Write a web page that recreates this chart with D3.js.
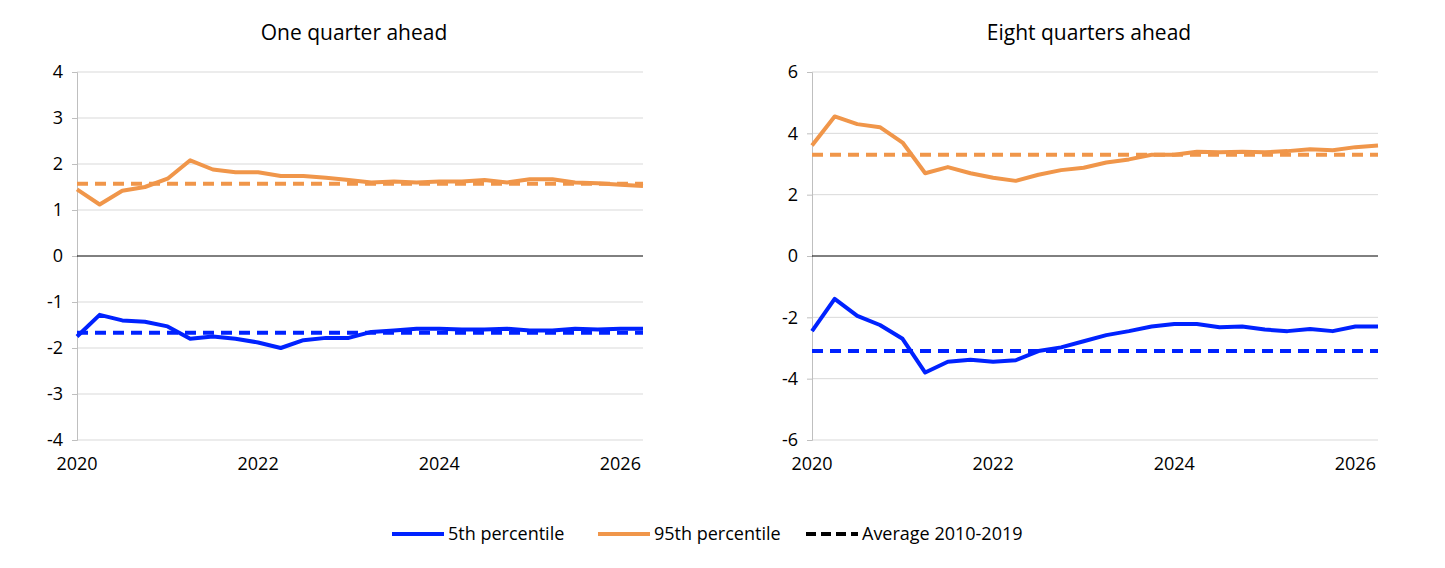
<!DOCTYPE html>
<html><head><meta charset="utf-8">
<script src="https://cdn.jsdelivr.net/npm/d3@7"></script>
<style>body{margin:0;background:#fff}text{font-family:"Open Sans",sans-serif}</style>
</head><body><svg id="c" width="1445" height="568"></svg>
<script>
const quarters=d3.range(26).map(i=>2020+i*0.25);
const oneP95=[1.45,1.12,1.42,1.5,1.68,2.08,1.88,1.82,1.82,1.74,1.74,1.7,1.65,1.6,1.62,1.6,1.62,1.62,1.65,1.6,1.67,1.67,1.6,1.58,1.55,1.52];
const oneP5=[-1.75,-1.28,-1.4,-1.43,-1.53,-1.8,-1.75,-1.8,-1.88,-2.0,-1.83,-1.78,-1.78,-1.65,-1.62,-1.58,-1.58,-1.6,-1.6,-1.58,-1.62,-1.62,-1.58,-1.6,-1.58,-1.58];
const oneAvg={p5:-1.67,p95:1.57};
const eightP95=[3.6,4.55,4.3,4.2,3.7,2.7,2.9,2.7,2.55,2.45,2.65,2.8,2.88,3.05,3.15,3.3,3.3,3.4,3.38,3.4,3.38,3.42,3.48,3.45,3.55,3.6];
const eightP5=[-2.45,-1.4,-1.95,-2.25,-2.7,-3.8,-3.45,-3.38,-3.45,-3.4,-3.1,-2.98,-2.78,-2.58,-2.45,-2.3,-2.22,-2.22,-2.32,-2.3,-2.4,-2.45,-2.38,-2.45,-2.3,-2.3];
const eightAvg={p5:-3.1,p95:3.3};
const xTicks=[2020,2022,2024,2026];
const BLUE='#0022ff',ORANGE='#f0964a';

const svg=d3.select('#c');
const panels=[
 {title:'One quarter ahead',x0:77,p5:oneP5,p95:oneP95,avg:oneAvg,dom:[-4,4],ticks:d3.range(-4,5,1)},
 {title:'Eight quarters ahead',x0:812,p5:eightP5,p95:eightP95,avg:eightAvg,dom:[-6,6],ticks:d3.range(-6,7,2)}
];
panels.forEach(p=>{
  const x=d3.scaleLinear().domain([2020,2026.25]).range([p.x0,p.x0+566]);
  const y=d3.scaleLinear().domain(p.dom).range([440,72]);
  const g=svg.append('g');
  g.append('text').attr('x',p.x0+277).attr('y',40).attr('text-anchor','middle').attr('font-size',21).text(p.title);
  g.selectAll('.grid').data(p.ticks.filter(t=>t!==0)).join('line')
    .attr('x1',p.x0).attr('x2',p.x0+566).attr('y1',d=>y(d)).attr('y2',d=>y(d)).attr('stroke','#d9d9d9');
  const ya=g.append('g').attr('transform',`translate(${p.x0},0)`)
    .call(d3.axisLeft(y).tickValues(p.ticks).tickSize(5).tickPadding(9).tickFormat(d=>String(d)));
  ya.selectAll('line,path').attr('stroke','#bfbfbf');
  ya.selectAll('text').attr('font-size',18).attr('fill','#000').attr('font-family','"Open Sans",sans-serif');
  g.append('line').attr('x1',p.x0).attr('x2',p.x0+566).attr('y1',y(0)).attr('y2',y(0)).attr('stroke','#000');
  g.selectAll('.xt').data(xTicks).join('text').attr('x',d=>x(d)).attr('y',470).attr('text-anchor','middle').attr('font-size',18).text(d=>d);
  const line=d3.line().x((d,i)=>x(quarters[i])).y(d=>y(d));
  [[p.avg.p95,ORANGE],[p.avg.p5,BLUE]].forEach(([v,c])=>g.append('line')
    .attr('x1',p.x0).attr('x2',p.x0+566).attr('y1',y(v)).attr('y2',y(v)).attr('stroke',c).attr('stroke-width',4).attr('stroke-dasharray','11,7'));
  [[p.p95,ORANGE],[p.p5,BLUE]].forEach(([d,c])=>g.append('path').datum(d).attr('d',line)
    .attr('fill','none').attr('stroke',c).attr('stroke-width',4).attr('stroke-linejoin','round'));
});
const legend=[{n:'5th percentile',c:BLUE,dash:null,x:392},{n:'95th percentile',c:ORANGE,dash:null,x:598},{n:'Average 2010-2019',c:'#000',dash:'10,5',x:806}];
const lg=svg.append('g').selectAll('g').data(legend).join('g').attr('transform',d=>`translate(${d.x},534)`);
lg.append('line').attr('x1',0).attr('x2',52).attr('stroke',d=>d.c).attr('stroke-width',4).attr('stroke-dasharray',d=>d.dash);
lg.append('text').attr('x',56).attr('y',6).attr('font-size',18).text(d=>d.n);
</script></body></html>
